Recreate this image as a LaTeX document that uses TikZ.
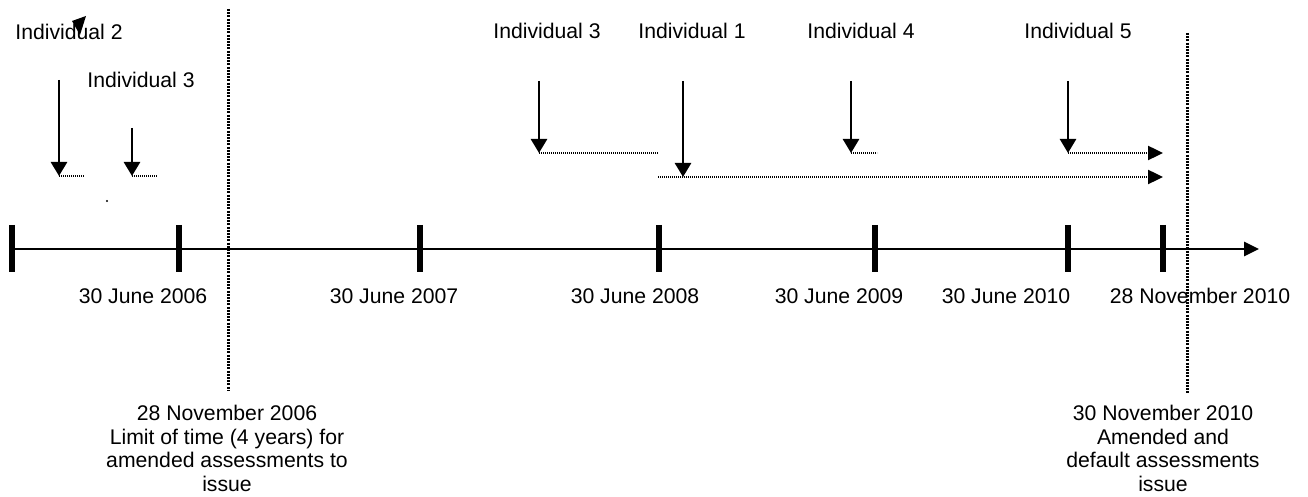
\documentclass[tikz,border=0pt]{standalone}
\usepackage{fontspec}
\setmainfont{Liberation Sans}
\usetikzlibrary{arrows.meta}
\begin{document}
\begin{tikzpicture}[x=0.5pt,y=-0.5pt,
  lbl/.style={font=\fontsize{10.6}{11.8}\selectfont, inner sep=0pt, anchor=center},
  blk/.style={lbl, align=center, anchor=north},
  axisline/.style={line width=1.4pt,-{Triangle[length=7.5pt,width=7pt]}},
  tickmark/.style={line width=3pt},
  downarrow/.style={line width=1.3pt,-{Triangle[length=7pt,width=8pt]}},
  fineline/.style={line width=1.2pt,dash pattern=on 0.6pt off 0.4pt},
  finearrow/.style={fineline,-{Triangle[length=7.5pt,width=7pt]}},
  limitline/.style={line width=1.5pt,dash pattern=on 1pt off 0.6pt}]
\useasboundingbox (0,0) rectangle (1308,497);
% axis
\coordinate (ax0) at (10,249);
\coordinate (axend) at (1259,249);
\draw[axisline] (ax0) -- (axend);
% ticks
\foreach \n/\x in {t0/12,t1/179,t2/420,t3/659,t4/875,t5/1068,t6/1163}{
  \coordinate (\n top) at (\x,225);
  \coordinate (\n bot) at (\x,272);
  \draw[tickmark] (\n top) -- (\n bot);
}
% date labels
\node[lbl] (d1) at (143,296) {30 June 2006};
\node[lbl] (d2) at (394,296) {30 June 2007};
\node[lbl] (d3) at (635,296) {30 June 2008};
\node[lbl] (d4) at (839,296) {30 June 2009};
\node[lbl] (d5) at (1006,296) {30 June 2010};
\node[lbl] (d6) at (1200,296) {28 November 2010};
% limit lines
\coordinate (l1a) at (228,9);
\coordinate (l1b) at (228,391);
\draw[limitline] (l1a) -- (l1b);
\coordinate (l2a) at (1187,33);
\coordinate (l2b) at (1187,393);
\draw[limitline] (l2a) -- (l2b);
% bottom blocks
\node[blk] (b1) at (227,405) {28 November 2006\\Limit of time (4 years) for\\amended assessments to\\issue};
\node[blk] (b2) at (1163,405) {30 November 2010\\Amended and\\default assessments\\issue};
% individual labels
\node[lbl] (i2) at (69,32) {Individual 2};
\node[lbl] (i3a) at (141,80) {Individual 3};
\node[lbl] (i3b) at (547,31) {Individual 3};
\node[lbl] (i1) at (692,31) {Individual 1};
\node[lbl] (i4) at (861,31) {Individual 4};
\node[lbl] (i5) at (1078,31) {Individual 5};
% stray marks
\fill (86,16) -- (72,21) -- (80,35) -- cycle;
\fill (107,201) circle (0.6pt);
% left arrows
\coordinate (p2top) at (59,80);
\coordinate (p2tip) at (59,176);
\coordinate (p2end) at (84,176);
\draw[downarrow] (p2top) -- (p2tip);
\draw[fineline] (p2tip) -- (p2end);
\coordinate (p3top) at (132,128);
\coordinate (p3tip) at (132,176);
\coordinate (p3end) at (157,176);
\draw[downarrow] (p3top) -- (p3tip);
\draw[fineline] (p3tip) -- (p3end);
% right arrows
\coordinate (q3top) at (539,81);
\coordinate (q3tip) at (539,153);
\coordinate (q3end) at (658,153);
\draw[downarrow] (q3top) -- (q3tip);
\draw[fineline] (q3tip) -- (q3end);
\coordinate (q1top) at (683,81);
\coordinate (q1tip) at (683,177);
\coordinate (q1start) at (658,177);
\coordinate (q1end) at (1163,177);
\draw[downarrow] (q1top) -- (q1tip);
\draw[finearrow] (q1start) -- (q1end);
\coordinate (q4top) at (851,81);
\coordinate (q4tip) at (851,153);
\coordinate (q4end) at (877,153);
\draw[downarrow] (q4top) -- (q4tip);
\draw[fineline] (q4tip) -- (q4end);
\coordinate (q5top) at (1068,81);
\coordinate (q5tip) at (1068,153);
\coordinate (q5end) at (1163,153);
\draw[downarrow] (q5top) -- (q5tip);
\draw[finearrow] (q5tip) -- (q5end);
\end{tikzpicture}
\end{document}
